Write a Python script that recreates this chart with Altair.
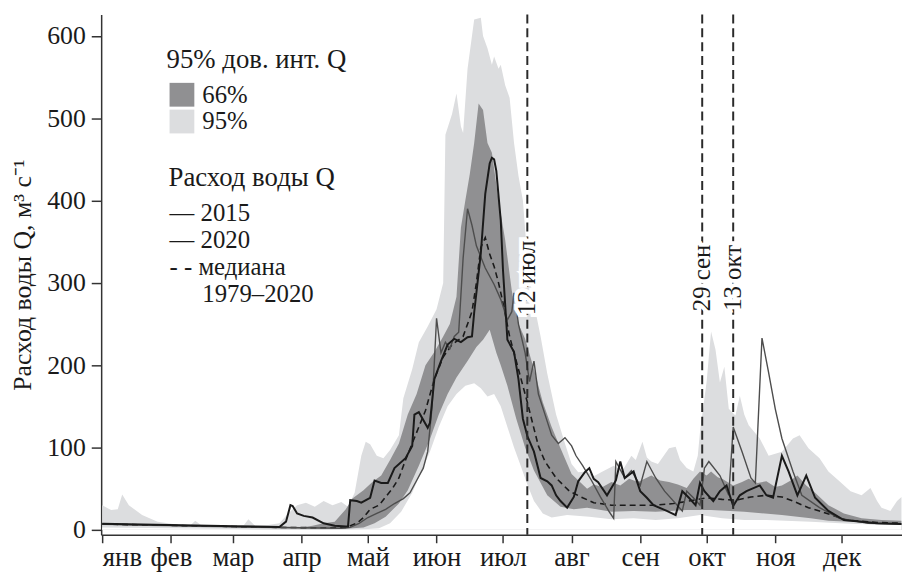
import json
import altair as alt
import pandas as pd

# ---------------- data (day of year, 0 = 1 January) ----------------
month_start_days = [0, 31, 59, 90, 120, 151, 181, 212, 243, 273, 304, 334]
month_names = ["янв", "фев", "мар", "апр", "май", "июн", "июл", "авг", "сен", "окт", "ноя", "дек"]

q95_hi_days = [0, 4, 7, 9, 12, 18, 25, 32, 40, 42, 45, 52, 60, 64, 66, 69, 75, 80, 84, 88, 92, 96, 100, 104,
               108, 111, 114, 117, 119, 121, 124, 127, 130, 134, 136, 140, 143, 147, 151, 154, 155, 158, 160,
               162, 163, 165, 167, 168, 171, 172, 174, 176, 177, 179, 180, 182, 184, 186, 188, 190, 192, 195,
               198, 201, 205, 209, 212, 215, 219, 222, 226, 231, 235, 239, 241, 244, 246, 248, 251, 256, 259,
               261, 264, 267, 269, 270, 273, 275, 277, 279, 281, 283, 286, 288, 290, 292, 297, 301, 307, 312,
               315, 319, 324, 328, 333, 338, 343, 347, 350, 352, 356, 359, 361]
q95_hi_vals = [30, 24, 25, 43, 30, 18, 10, 7, 6, 11, 5, 4, 4, 6, 13, 5, 6, 8, 20, 30, 33, 28, 35, 30,
               34, 28, 45, 90, 107, 104, 90, 87, 97, 115, 160, 195, 228, 247, 268, 300, 480, 505, 530,
               490, 482, 560, 600, 620, 622, 600, 585, 565, 575, 560, 565, 540, 525, 470, 430, 400, 330, 275,
               235, 190, 140, 105, 80, 70, 71, 65, 71, 78, 72, 90, 85, 107, 88, 83, 80, 99, 101,
               85, 75, 71, 90, 119, 180, 241, 219, 179, 198, 147, 139, 163, 140, 127, 111, 90, 95, 111,
               115, 99, 87, 71, 59, 47, 42, 51, 35, 27, 23, 35, 40]

q95_lo_days = [0, 30, 60, 100, 120, 125, 130, 135, 140, 144, 148, 152, 156, 160, 164, 168, 171, 174, 177, 180,
               183, 186, 189, 192, 195, 199, 203, 210, 220, 230, 240, 250, 260, 270, 280, 290, 300, 320, 340, 361]
q95_lo_vals = [3, 2, 1, 0.5, 1, 2, 8, 22, 45, 70, 95, 125, 150, 165, 175, 178, 172, 162, 165, 150,
               125, 100, 78, 55, 35, 20, 15, 18, 16, 13, 14, 12, 14, 18, 14, 12, 12, 10, 7, 6]

q66_hi_days = [0, 30, 60, 90, 95, 100, 105, 110, 113, 118, 122, 126, 130, 134, 138, 142, 146, 150, 154, 157,
               160, 162, 164, 166, 168, 170, 172, 174, 176, 179, 182, 185, 188, 191, 195, 199, 203, 207, 212,
               219, 222, 226, 230, 234, 238, 242, 248, 252, 256, 260, 264, 267, 270, 273, 275, 278, 280, 285,
               289, 292, 296, 300, 304, 307, 311, 314, 318, 322, 328, 335, 343, 352, 361]
q66_hi_vals = [8, 6, 4, 3, 5, 8, 10, 25, 38, 48, 58, 66, 85, 105, 140, 165, 200, 216, 235, 250,
               283, 367, 400, 432, 470, 518, 510, 470, 458, 400, 352, 290, 250, 232, 195, 155, 125, 99, 68,
               50, 55, 52, 58, 54, 62, 58, 66, 60, 58, 55, 51, 62, 71, 66, 71, 64, 62, 54,
               58, 62, 57, 59, 52, 54, 60, 66, 54, 45, 30, 20, 14, 12, 11]

q66_lo_days = [0, 30, 60, 90, 110, 118, 123, 128, 134, 138, 143, 148, 152, 156, 160, 165, 169, 172, 175, 178,
               180, 183, 187, 191, 195, 201, 207, 213, 219, 230, 240, 250, 264, 275, 290, 307, 320, 328, 345, 361]
q66_lo_vals = [6, 4, 2.5, 1.5, 1.5, 3, 8, 16, 32, 48, 78, 110, 140, 165, 185, 205, 222, 231, 243, 215,
               200, 175, 135, 100, 72, 42, 28, 25, 27, 22, 23, 22, 24, 24, 22, 18, 14, 11, 9, 8]

median_days = [0, 20, 40, 60, 80, 100, 110, 115, 118, 121, 125, 128, 131, 134, 137, 140, 143, 146, 150, 154,
               158, 163, 167, 169, 171, 173, 175, 177, 179, 181, 184, 188, 192, 195, 197, 200, 205, 211, 217,
               222, 230, 240, 250, 258, 265, 273, 280, 286, 293, 300, 307, 312, 319, 324, 336, 350, 361]
median_vals = [7, 6, 5, 4, 3, 2.5, 3, 8, 15, 25, 30, 40, 50, 63, 85, 105, 125, 145, 183, 210,
               225, 235, 265, 300, 343, 355, 335, 320, 300, 276, 235, 195, 155, 123, 102, 83, 63, 47, 39,
               33, 30, 30, 30, 32, 35, 39, 37, 36, 40, 42, 40, 35, 27, 23, 12, 9, 8]

y2020_days = [0, 30, 60, 80, 83, 85, 86, 88, 91, 95, 100, 105, 110, 111, 112, 115, 117, 121, 123, 126, 129, 132,
              137, 140, 141, 143, 147, 148, 150, 153, 156, 159, 162, 165, 167, 168, 171, 173, 175, 176, 177,
              178, 180, 181, 183, 186, 188, 190, 192, 195, 198, 201, 203, 205, 207, 210, 213, 215, 218, 220,
              222, 224, 228, 232, 234, 236, 240, 243, 246, 249, 255, 259, 262, 265, 268, 270, 272, 276, 279,
              282, 285, 288, 291, 297, 300, 303, 307, 310, 314, 318, 322, 328, 335, 350, 361]
y2020_vals = [7.5, 6, 4.5, 3.5, 10, 30, 29, 20, 17, 15, 8, 5, 4, 4, 36, 35, 33, 39, 60, 57, 57, 75,
              87, 102, 140, 143, 124, 130, 183, 205, 225, 232, 228, 234, 235, 264, 336, 408, 445, 452, 450,
              436, 376, 316, 231, 216, 183, 135, 114, 95, 63, 59, 54, 42, 35, 27, 40, 59, 70, 75,
              62, 58, 42, 60, 83, 63, 71, 47, 39, 30, 23, 18, 47, 39, 30, 57, 47, 35, 47,
              54, 29, 42, 47, 54, 42, 39, 90, 71, 42, 66, 39, 23, 12, 8, 7]

y2015_days = [0, 30, 60, 90, 108, 112, 116, 120, 124, 128, 132, 136, 139, 142, 145, 147, 149, 151, 153, 155,
              157, 159, 161, 163, 165, 167, 169, 173, 177, 180, 183, 185, 186, 188, 191, 193, 195, 197, 200,
              203, 206, 209, 212, 214, 217, 221, 225, 229, 231, 232, 236, 239, 243, 246, 250, 254, 262, 264,
              267, 270, 272, 274, 279, 283, 285, 289, 293, 295, 298, 301, 304, 307, 312, 316, 324, 333, 346, 361]
y2015_vals = [7, 5.5, 4, 2.5, 2, 3, 8, 15, 20, 25, 32, 38, 45, 60, 75, 95, 150, 257, 215, 228,
              220, 235, 240, 330, 390, 370, 345, 318, 298, 280, 255, 265, 288, 250, 215, 180, 205, 165, 140,
              115, 105, 112, 102, 90, 78, 60, 40, 22, 14, 83, 63, 72, 54, 83, 63, 47, 23, 47,
              39, 30, 75, 83, 66, 42, 125, 95, 63, 57, 233, 191, 147, 111, 71, 42, 27, 14, 8, 7]

event_days = [192, 271, 285]
event_labels = ["12 июл", "29 сен", "13 окт"]

y_ticks = [0, 100, 200, 300, 400, 500, 600]
y_title = "Расход воды Q, м³ с⁻¹"
band_legend_title = "95% дов. инт. Q"
band_legend_labels = ["66%", "95%"]
line_legend_title = "Расход воды Q"
line_legend_labels = ["— 2015", "— 2020", "- - медиана", "1979–2020"]

# ---------------- style ----------------
W, H = 808, 525
X_DOMAIN = [-0.5, 361.25]
Y_DOMAIN = [-6, 626]
FONT = "Liberation Serif"
LIGHT = "#dcdddf"
DARK = "#909092"
INK = "#1a1a1a"
LABEL_Q = 306

xs = alt.Scale(domain=X_DOMAIN, nice=False, zero=False)
ys = alt.Scale(domain=Y_DOMAIN, nice=False, zero=False)

names_js = json.dumps(month_names, ensure_ascii=False)
starts_js = json.dumps(month_start_days)
x_axis = alt.Axis(values=month_start_days, labelExpr=f"{names_js}[indexof({starts_js}, datum.value)]",
                  labelFlush=5, title=None, grid=False, tickSize=8, labelPadding=2,
                  labelFontSize=27)
y_axis = alt.Axis(values=y_ticks, title=y_title, grid=False, tickSize=10, labelPadding=6,
                  labelFontSize=26, titleFontSize=26, titleFontWeight="normal", titleAngle=270,
                  titleAlign="center", titleBaseline="middle", titleX=-79, titleY=H / 2)

X = alt.X("day:Q", scale=xs, axis=x_axis)
Y = alt.Y("q:Q", scale=ys, axis=y_axis)


def df(days, vals):
    return pd.DataFrame({"day": days, "q": vals})


def band(days, vals, color):
    return alt.Chart(df(days, vals)).mark_area(color=color, opacity=1, strokeWidth=0).encode(
        x=X, y=Y, y2=alt.datum(0),
    )


def line(days, vals, color, width, dash=None):
    kw = dict(color=color, strokeWidth=width)
    if dash:
        kw["strokeDash"] = dash
    return alt.Chart(df(days, vals)).mark_line(**kw).encode(x=X, y=Y)


layers = [
    band(q95_hi_days, q95_hi_vals, LIGHT),
    band(q66_hi_days, q66_hi_vals, DARK),
    band(q66_lo_days, q66_lo_vals, LIGHT),
    band(q95_lo_days, q95_lo_vals, "white"),
    line(median_days, median_vals, INK, 1.6, [6, 4]),
    line(y2015_days, y2015_vals, "#4d4d4d", 1.4),
    line(y2020_days, y2020_vals, INK, 2.0),
]

events = pd.DataFrame({"day": event_days, "label": event_labels})
layers.append(
    alt.Chart(events).mark_rule(color="#2a2a2a", strokeWidth=2, strokeDash=[9, 5]).encode(
        x=X, y=alt.value(0), y2=alt.value(H)
    )
)
for stroke_kw in (dict(stroke="white", strokeWidth=8, fill="white"), dict(fill=INK)):
    layers.append(
        alt.Chart(events).mark_text(angle=270, align="center", baseline="middle", font=FONT,
                                    fontSize=25, **stroke_kw).encode(
            x=X,
            y=alt.Y(datum=LABEL_Q, scale=ys, axis=y_axis),
            text="label:N",
        )
    )

# legend (annotation)
LEG = dict(font=FONT, align="left", baseline="middle", color=INK)
anchor = alt.Chart(pd.DataFrame({"k": [0]}))
layers.append(anchor.mark_text(text=band_legend_title, fontSize=27, **LEG).encode(x=alt.value(66), y=alt.value(46)))
layers.append(anchor.mark_rect(color=DARK).encode(x=alt.value(69), x2=alt.value(94), y=alt.value(69), y2=alt.value(93)))
layers.append(anchor.mark_rect(color=LIGHT).encode(x=alt.value(69), x2=alt.value(94), y=alt.value(96), y2=alt.value(120)))
for i, lab in enumerate(band_legend_labels):
    layers.append(anchor.mark_text(text=lab, fontSize=25, **LEG).encode(x=alt.value(102), y=alt.value(81 + 27 * i)))
layers.append(anchor.mark_text(text=line_legend_title, fontSize=27, **LEG).encode(x=alt.value(68), y=alt.value(165)))
for i, lab in enumerate(line_legend_labels):
    xpos = 102 if i == 3 else 69
    layers.append(anchor.mark_text(text=lab, fontSize=25, **LEG).encode(x=alt.value(xpos), y=alt.value(200 + 27.5 * i)))

chart = alt.layer(*layers).properties(
    width=W, height=H,
    padding={"left": 94, "top": 4, "right": 0, "bottom": 36},
    autosize=alt.AutoSizeParams(type="none"),
).configure_view(stroke=None).configure_axis(
    labelFont=FONT, titleFont=FONT, labelColor=INK, titleColor=INK,
    domainColor="#333333", tickColor="#333333", domainWidth=1.5, tickWidth=1.5,
)

chart.save("out.html", embed_options={"renderer": "svg", "actions": False})
